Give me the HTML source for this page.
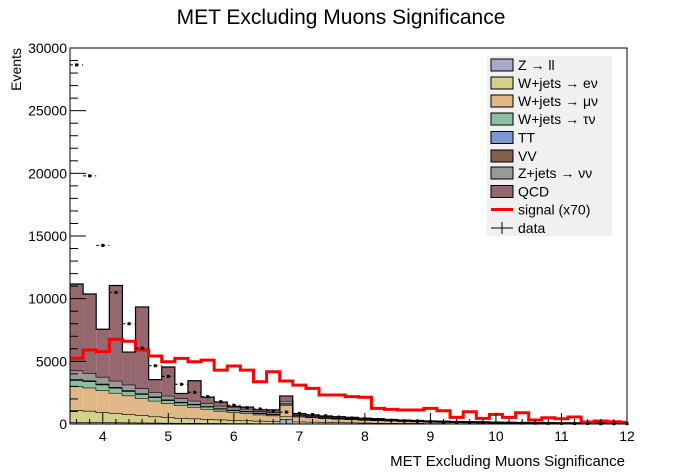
<!DOCTYPE html>
<html><head><meta charset="utf-8"><style>
body{margin:0;background:#fff;}
svg{display:block;font-family:"Liberation Sans",sans-serif;}
</style></head><body>
<svg id="c" width="696" height="472" viewBox="0 0 696 472">
<text x="341" y="24" font-size="21" text-anchor="middle">MET Excluding Muons Significance</text>
<text x="625" y="466" font-size="15" text-anchor="end">MET Excluding Muons Significance</text>
<text x="0" y="0" font-size="14" text-anchor="end" transform="translate(21,48) rotate(-90)">Events</text>
<g id="bars"></g><g id="sig"></g><g id="pts"></g><g id="axes"></g>
<g>
<rect x="487" y="56" width="125" height="180" fill="#f0f0f0"/>
<g id="leg"></g>
</g>
</svg>
<script>
const binLo = 3.5, binW = 0.2;
const zll = [0.15,0.15,0.14,0.13,0.12,0.11,0.10,0.09,0.08,0.08,0.07,0.07,0.06,0.06,0.05,0.05,0.4,0.04,0.04,0.03,0.03,0.03,0.02,0.02,0.02,0.02,0.02,0.01,0.01,0.01,0.01,0.01,0.01,0.01,0.01,0.01,0.01,0.01,0.01,0.01,0.01,0.01,0.01];
const wen = [0.95,0.9,0.8,0.75,0.65,0.6,0.5,0.45,0.4,0.36,0.32,0.28,0.25,0.22,0.2,0.18,0.2,0.15,0.13,0.12,0.1,0.09,0.08,0.07,0.06,0.05,0.05,0.04,0.04,0.03,0.03,0.03,0.02,0.02,0.02,0.02,0.02,0.01,0.01,0.01,0.01,0.01,0.01];
const wmn = [1.9,1.85,1.75,1.6,1.5,1.35,1.25,1.1,1.0,0.9,0.8,0.7,0.65,0.6,0.5,0.45,0.9,0.4,0.35,0.3,0.28,0.25,0.22,0.2,0.18,0.15,0.13,0.12,0.1,0.09,0.08,0.07,0.06,0.05,0.05,0.04,0.04,0.03,0.03,0.03,0.02,0.02,0.02];
const wtn = [0.5,0.5,0.45,0.4,0.35,0.32,0.28,0.25,0.22,0.2,0.18,0.15,0.13,0.12,0.1,0.09,0.1,0.08,0.07,0.06,0.05,0.05,0.04,0.04,0.03,0.03,0.03,0.02,0.02,0.02,0.02,0.02,0.01,0.01,0.01,0.01,0.01,0.01,0.01,0.01,0.01,0.01,0.01];
const tt = [0.02,0.02,0.02,0.02,0.02,0.02,0.02,0.02,0.02,0.02,0.02,0.02,0.01,0.01,0.01,0.01,0.01,0.01,0.01,0.01,0.01,0.01,0.01,0.01,0.01,0,0,0,0,0,0,0,0,0,0,0,0,0,0,0,0,0,0];
const vv = [0.05,0.05,0.05,0.05,0.05,0.04,0.04,0.04,0.04,0.04,0.03,0.03,0.03,0.03,0.03,0.03,0.03,0.02,0.02,0.02,0.02,0.02,0.02,0.02,0.01,0.01,0.01,0.01,0.01,0.01,0.01,0.01,0.01,0.01,0.01,0.01,0.01,0.01,0.01,0.01,0.01,0.01,0.01];
const znn = [0.7,0.6,0.55,0.5,0.45,0.4,0.35,0.3,0.28,0.25,0.22,0.2,0.18,0.16,0.14,0.12,0.2,0.1,0.09,0.08,0.07,0.06,0.05,0.05,0.04,0.04,0.03,0.03,0.03,0.02,0.02,0.02,0.02,0.02,0.01,0.01,0.01,0.01,0.01,0.01,0.01,0.01,0.01];
const qcd = [6.9,6.3,3.8,7.6,2.6,6.5,1.0,2.3,0.4,1.6,0.5,0.3,0.1,0.15,0.1,0.2,0.4,0.03,0.02,0.02,0.02,0.02,0.02,0.01,0.01,0.01,0.01,0.01,0.01,0.01,0.01,0.01,0.01,0.01,0.01,0.01,0.01,0.01,0.01,0.01,0.01,0.01,0.01];
const signal = [5.25,5.9,5.77,6.76,6.6,5.9,5.43,4.97,5.24,4.97,5.1,4.3,4.63,4.3,3.37,4.17,3.43,3.1,2.84,2.31,2.31,2.18,2.13,1.25,1.17,1.12,1.12,1.25,1.06,0.53,0.98,0.45,0.77,0.53,0.9,0.32,0.5,0.42,0.56,0.16,0.24,0.18,0.13];
const data = [28.65,19.8,14.25,10.5,8.0,6.05,4.65,3.8,3.17,2.53,2.18,1.78,1.5,1.3,1.2,1.05,0.95,0.85,0.75,0.65,0.55,0.48,0.42,0.36,0.3,0.26,0.22,0.19,0.16,0.14,0.12,0.1,0.09,0.08,0.07,0.06,0.05,0.05,0.04,0.04,0.03,0.03,0.03];
const xTicks = [4,5,6,7,8,9,10,11,12];
const yTicks = [0,5000,10000,15000,20000,25000,30000];

const X0=70,X1=627,Y0=424,Y1=48,xmin=3.5,xmax=12,ymax=30;
const sx=v=>X0+(v-xmin)/(xmax-xmin)*(X1-X0);
const sy=v=>Y0-v/ymax*(Y0-Y1);
const NS='http://www.w3.org/2000/svg';
function mk(tag,attrs,parent){const e=document.createElementNS(NS,tag);for(const k in attrs)e.setAttribute(k,attrs[k]);parent.appendChild(e);return e;}
const bars=document.getElementById('bars');
const comps=[[zll,'#a9a9c8','z-ll'],[wen,'#d4d08a','w-enu'],[wmn,'#e0b888','w-munu'],[wtn,'#88c0a0','w-taunu'],[tt,'#7898d0','tt'],[vv,'#856050','vv'],[znn,'#999999','z-nunu'],[qcd,'#956870','qcd']];
const cum=new Array(qcd.length).fill(0);
comps.forEach(([arr,col,nm])=>{
  const pts=[];
  for(let i=0;i<arr.length;i++){
    const a=binLo+i*binW,b=Math.min(a+binW,xmax);
    const lo=cum[i],hi=cum[i]+arr[i];cum[i]=hi;
    const r=mk('rect',{x:sx(a),y:sy(hi),width:sx(b)-sx(a),height:sy(lo)-sy(hi),fill:col},bars);
    
    
    pts.push([sx(a),sy(hi)],[sx(b),sy(hi)]);
  }
  const p=mk('polyline',{points:pts.map(q=>q.join(',')).join(' '),fill:'none',stroke:'#000','stroke-width':1.2},bars);
  
  
});
const sp=[];
signal.forEach((v,i)=>{const a=binLo+i*binW,b=Math.min(a+binW,xmax);sp.push([sx(a),sy(v)],[sx(b),sy(v)]);});
const sl=mk('polyline',{points:sp.map(q=>q.join(',')).join(' '),fill:'none',stroke:'#ff0000','stroke-width':3},document.getElementById('sig'));


const pg=document.getElementById('pts');
data.forEach((v,i)=>{
  const a=binLo+i*binW,c=sx(a+binW/2),y=sy(v);
  const l=mk('line',{x1:sx(a),x2:Math.min(sx(a+binW),X1),y1:y,y2:y,stroke:'#000','stroke-width':1,'stroke-dasharray':'3,3'},pg);
  
  
  const r=mk('rect',{x:c-1.5,y:y-1.5,width:3,height:3,fill:'#000'},pg);
  
  
});
const ax=document.getElementById('axes');
const fr=mk('rect',{x:X0,y:Y1,width:X1-X0,height:Y0-Y1,fill:'none',stroke:'#000','stroke-width':1},ax);


for(let v=3.6;v<=12.001;v+=0.2){const x=sx(v);const major=Math.abs(v-Math.round(v))<0.01;mk('line',{x1:x,x2:x,y1:Y0,y2:Y0-(major?11:5),stroke:'#000'},ax);}
xTicks.forEach(v=>{const t=mk('text',{x:sx(v),y:Y0+17,'font-size':14,'text-anchor':'middle'},ax);t.textContent=v;

});
for(let v=0;v<=30000;v+=1000){const y=sy(v/1000);const major=v%5000===0;mk('line',{x1:X0,x2:X0+(major?16:8),y1:y,y2:y,stroke:'#000'},ax);}
yTicks.forEach(v=>{const t=mk('text',{x:X0-3,y:sy(v/1000)+5,'font-size':14,'text-anchor':'end'},ax);t.textContent=v;

});
const lg=document.getElementById('leg');
const names=['Z \u2192 ll','W+jets \u2192 e\u03bd','W+jets \u2192 \u03bc\u03bd','W+jets \u2192 \u03c4\u03bd','TT','VV','Z+jets \u2192 \u03bd\u03bd','QCD'];
const ly=[65,83,101,119,137.5,156,173,191.5];
comps.forEach(([arr,col,nm],i)=>{
  const r=mk('rect',{x:491,y:ly[i]-6,width:22,height:12,fill:col,stroke:'#000','stroke-width':1},lg);
  
  
  const t=mk('text',{x:518,y:ly[i]+5,'font-size':14},lg);t.textContent=names[i];
  
  
});
mk('line',{x1:491,x2:513,y1:209.5,y2:209.5,stroke:'#ff0000','stroke-width':3},lg);
let t=mk('text',{x:518,y:214.5,'font-size':14},lg);t.textContent='signal (x70)';


mk('line',{x1:491,x2:513,y1:228,y2:228,stroke:'#000'},lg);
mk('line',{x1:502,x2:502,y1:222,y2:234,stroke:'#000'},lg);
t=mk('text',{x:518,y:233,'font-size':14},lg);t.textContent='data';


</script>
</body></html>
